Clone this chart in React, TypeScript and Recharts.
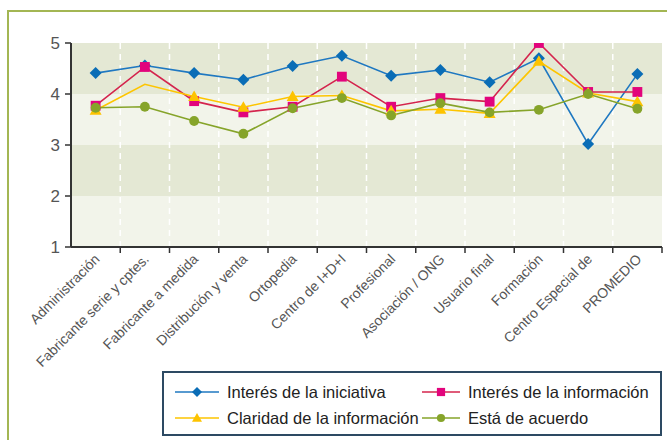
import React from 'react';
import { LineChart, Line, XAxis, YAxis, CartesianGrid } from 'recharts';

const categories = [
  'Administración',
  'Fabricante serie y cptes.',
  'Fabricante a medida',
  'Distribución y venta',
  'Ortopedia',
  'Centro de I+D+I',
  'Profesional',
  'Asociación / ONG',
  'Usuario final',
  'Formación',
  'Centro Especial de',
  'PROMEDIO',
];

const interesIniciativa = [4.41, 4.56, 4.41, 4.28, 4.55, 4.75, 4.36, 4.47, 4.23, 4.7, 3.02, 4.39];
const interesInformacion = [3.77, 4.53, 3.86, 3.64, 3.75, 4.34, 3.75, 3.92, 3.85, 5.0, 4.04, 4.04];
const claridadInformacion = [3.68, 4.19, 3.95, 3.74, 3.95, 3.97, 3.67, 3.7, 3.62, 4.64, 4.02, 3.85];
const estaDeAcuerdo = [3.73, 3.75, 3.47, 3.22, 3.72, 3.92, 3.58, 3.82, 3.64, 3.69, 4.0, 3.71];

const yTicks = [1, 2, 3, 4, 5];

const W = 667;
const H = 440;
const MARGIN = { top: 43, right: 5, bottom: 73, left: 0 };
const Y_AXIS_W = 71;
const X_AXIS_H = 120;
const PLOT_BOTTOM = H - MARGIN.bottom - X_AXIS_H;
const STEP = (W - Y_AXIS_W - MARGIN.right) / categories.length;

const FONT = "'Liberation Sans', Arial, sans-serif";

type Shape = 'diamond' | 'square' | 'triangle' | 'circle';

const series = [
  { key: 'iniciativa', name: 'Interés de la iniciativa', values: interesIniciativa, line: '#1f78c1', mark: '#0a6db6', shape: 'diamond' as Shape, hide: [] as number[] },
  { key: 'informacion', name: 'Interés de la información', values: interesInformacion, line: '#d4244d', mark: '#e2047c', shape: 'square' as Shape, hide: [] as number[] },
  // the triangle at the second point is missing in the original
  { key: 'claridad', name: 'Claridad de la información', values: claridadInformacion, line: '#fdc500', mark: '#fdc300', shape: 'triangle' as Shape, hide: [1] },
  { key: 'acuerdo', name: 'Está de acuerdo', values: estaDeAcuerdo, line: '#86a42a', mark: '#86a42a', shape: 'circle' as Shape, hide: [] as number[] },
];

const data = categories.map((name, i) => {
  const row: Record<string, any> = { name };
  series.forEach((s) => (row[s.key] = s.values[i]));
  return row;
});

const Marker = ({ shape, cx, cy, fill, r }: { shape: Shape; cx: number; cy: number; fill: string; r: number }) => {
  if (shape === 'diamond')
    return <path d={`M${cx},${cy - r} L${cx + r},${cy} L${cx},${cy + r} L${cx - r},${cy} Z`} fill={fill} />;
  if (shape === 'square')
    return <rect x={cx - r * 0.82} y={cy - r * 0.82} width={r * 1.64} height={r * 1.64} fill={fill} />;
  if (shape === 'triangle')
    return <path d={`M${cx},${cy - r} L${cx + r},${cy + r * 0.75} L${cx - r},${cy + r * 0.75} Z`} fill={fill} />;
  return <circle cx={cx} cy={cy} r={r * 0.82} fill={fill} />;
};

const XTick = (props: any) => {
  const { x, payload } = props;
  const tx = x + 5;
  const ty = PLOT_BOTTOM + 13;
  return (
    <g>
      <line x1={x + STEP / 2} y1={PLOT_BOTTOM} x2={x + STEP / 2} y2={PLOT_BOTTOM + 6} stroke="#333" strokeWidth={1.5} />
      <text x={tx} y={ty} transform={`rotate(-45, ${tx}, ${ty})`} textAnchor="end" fill="#555" fontSize={14} fontFamily={FONT}>
        {payload.value}
      </text>
    </g>
  );
};

const LegendBox = () => (
  <div
    style={{
      position: 'absolute',
      left: 162,
      top: 371,
      width: 500,
      height: 65,
      boxSizing: 'border-box',
      border: '2px solid #2d4a63',
      background: '#fff',
      fontFamily: FONT,
      fontSize: 16.5,
      color: '#222',
    }}
  >
    {series.map((s, i) => {
      const col = i % 2;
      const row = Math.floor(i / 2);
      return (
        <div
          key={s.key}
          style={{ position: 'absolute', left: col === 0 ? 11 : 258, top: row === 0 ? 7 : 33, display: 'flex', alignItems: 'center', height: 24 }}
        >
          <svg width={col === 0 ? 44 : 38} height={14} style={{ marginRight: 8 }}>
            <line x1={0} y1={7} x2={col === 0 ? 44 : 38} y2={7} stroke={s.line} strokeWidth={1.5} />
            <Marker shape={s.shape} cx={col === 0 ? 22 : 19} cy={7} fill={s.mark} r={5} />
          </svg>
          <span style={{ whiteSpace: 'nowrap' }}>{s.name}</span>
        </div>
      );
    })}
  </div>
);

const App = () => (
  <div style={{ position: 'fixed', left: 0, top: 0, width: W, height: H, overflow: 'hidden', background: '#fff' }}>
    <div
      style={{
        position: 'absolute',
        left: 7,
        top: 10,
        width: 720,
        height: 500,
        borderTop: '2px solid #a3b653',
        borderLeft: '2px solid #a3b653',
      }}
    />
    <div style={{ position: 'absolute', left: 0, top: 0 }}>
      <LineChart width={W} height={H} data={data} margin={MARGIN}>
        {/* alternating bands between the y ticks */}
        <CartesianGrid vertical={false} stroke="none" horizontalFill={['#e4e8d4', '#f2f4ea']} fillOpacity={1} />
        <CartesianGrid
          horizontal={false}
          stroke="#ffffff"
          strokeWidth={1.5}
          strokeDasharray="6 5"
          verticalCoordinatesGenerator={({ offset }: any) =>
            categories.slice(1).map((_, k) => offset.left + (offset.width * (k + 1)) / categories.length)
          }
        />
        <XAxis
          dataKey="name"
          interval={0}
          height={X_AXIS_H}
          padding={{ left: STEP / 2, right: STEP / 2 }}
          tickLine={false}
          axisLine={{ stroke: '#333', strokeWidth: 2 }}
          tick={<XTick />}
        />
        <YAxis
          width={Y_AXIS_W}
          domain={[1, 5]}
          ticks={yTicks}
          allowDataOverflow
          tickSize={6}
          tickMargin={5}
          axisLine={{ stroke: '#333', strokeWidth: 2 }}
          tickLine={{ stroke: '#333', strokeWidth: 1.5 }}
          tick={{ fill: '#555', fontSize: 17, fontFamily: FONT }}
        />
        {series.map((s) => (
          <Line
            key={s.key}
            dataKey={s.key}
            name={s.name}
            stroke={s.line}
            strokeWidth={1.6}
            isAnimationActive={false}
            dot={(p: any) =>
              s.hide.includes(p.index) ? (
                <g key={`${s.key}-${p.index}`} />
              ) : (
                <g key={`${s.key}-${p.index}`}>
                  <Marker shape={s.shape} cx={p.cx} cy={p.cy} fill={s.mark} r={6} />
                </g>
              )
            }
            activeDot={false}
          />
        ))}
      </LineChart>
    </div>
    <LegendBox />
  </div>
);

export default App;
